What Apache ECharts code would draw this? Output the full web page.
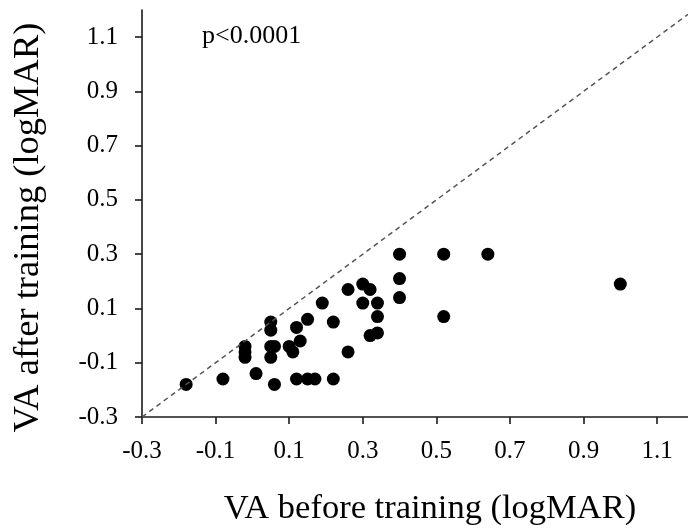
<!DOCTYPE html>
<html>
<head>
<meta charset="utf-8">
<script src="https://cdn.jsdelivr.net/npm/echarts@6/dist/echarts.min.js"></script>
<style>html,body{margin:0;padding:0;background:#fff}#c{width:688px;height:531px}</style>
</head>
<body>
<div id="c"></div>
<script>
// VA before training (logMAR)
var beforeVA = [-0.18,-0.08,0.01,0.06,-0.02,-0.02,-0.02,0.05,0.05,0.05,0.06,0.05,0.10,0.11,0.12,0.13,0.15,0.19,0.22,0.12,0.15,0.17,0.22,0.40,0.52,0.64,0.40,0.40,0.52,0.26,0.30,0.32,0.30,0.34,0.34,0.32,0.34,0.26,1.00];
// VA after training (logMAR)
var afterVA  = [-0.18,-0.16,-0.14,-0.18,-0.04,-0.06,-0.08,0.05,0.02,-0.04,-0.04,-0.08,-0.04,-0.06,0.03,-0.02,0.06,0.12,0.05,-0.16,-0.16,-0.16,-0.16,0.30,0.30,0.30,0.21,0.14,0.07,0.17,0.19,0.17,0.12,0.12,0.07,0.00,0.01,-0.06,0.19];
var tickValues = [-0.3,-0.1,0.1,0.3,0.5,0.7,0.9,1.1];
var identityLine = [-0.3, 1.184];
var pText = 'p<0.0001';
var xTitle = 'VA before training (logMAR)';
var yTitle = 'VA after training (logMAR)';

var FONT = "'Liberation Serif','Times New Roman',serif";
var pts = beforeVA.map(function(v,i){return [v, afterVA[i]];});
var linePts = identityLine.map(function(v){return [v,v];});

var chart = echarts.init(document.getElementById('c'), null, {renderer:'canvas'});
var axisCommon = {
  type:'value',
  splitLine:{show:false},
  axisLine:{show:true,onZero:false,lineStyle:{color:'#1a1a1a',width:1.6}},
  axisTick:{show:true,inside:false,length:7,lineStyle:{color:'#1a1a1a',width:1.6},customValues:tickValues},
  axisLabel:{color:'#000',fontFamily:FONT,fontSize:25,customValues:tickValues,
    formatter:function(v){return (Math.round(v*10)/10).toFixed(1);}},
  nameLocation:'middle'
};
chart.setOption({
  animation:false,
  backgroundColor:'#fff',
  grid:{left:142,right:0,top:10,bottom:112,containLabel:false},
  xAxis:Object.assign({},axisCommon,{min:-0.3,max:1.184,name:xTitle,nameGap:74,
    nameTextStyle:{color:'#000',fontFamily:FONT,fontSize:34.5,padding:[0,0,0,30]},
    axisLabel:Object.assign({},axisCommon.axisLabel,{margin:22})}),
  yAxis:Object.assign({},axisCommon,{min:-0.3,max:1.2,name:yTitle,nameGap:95,
    nameTextStyle:{color:'#000',fontFamily:FONT,fontSize:36.5,padding:[0,28,0,0]},
    axisLabel:Object.assign({},axisCommon.axisLabel,{margin:24})}),
  graphic:[{type:'text',left:202,top:23,style:{text:pText,font:"26px "+FONT,fill:'#000'}}],
  series:[
    {type:'line',data:linePts,symbol:'none',silent:true,
     lineStyle:{color:'#555',width:1.5,type:[5,4]}},
    {type:'scatter',data:pts,symbol:'circle',symbolSize:13,itemStyle:{color:'#000',opacity:1}}
  ]
});
</script>
</body>
</html>
